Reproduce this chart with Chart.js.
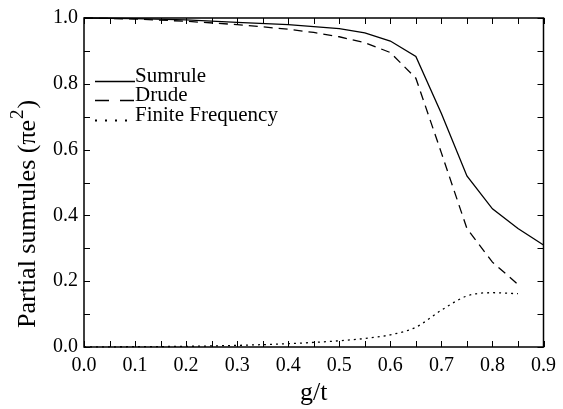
<!DOCTYPE html>
<html>
<head>
<meta charset="utf-8">
<script src="https://cdn.jsdelivr.net/npm/chart.js@4/dist/chart.umd.min.js"></script>
<style>
  html, body { margin: 0; padding: 0; background: #fff; }
  #wrap { width: 563px; height: 409px; }
</style>
</head>
<body>
<div id="wrap"><canvas id="chart"></canvas></div>
<script>
// g/t values along the x axis
const gValues = [0, 0.1, 0.2, 0.3, 0.4, 0.45, 0.5, 0.55, 0.6, 0.65, 0.7, 0.75, 0.8, 0.85, 0.9];
// partial sumrules in units of pi e^2
const sumrule = [1.0, 0.998, 0.994, 0.987, 0.98, 0.974, 0.968, 0.955, 0.93, 0.883, 0.71, 0.52, 0.42, 0.36, 0.31];
const drude = [1.0, 0.997, 0.99, 0.98, 0.966, 0.956, 0.943, 0.925, 0.895, 0.817, 0.59, 0.36, 0.258, 0.19, null];
const finiteFreq = [0.0, 0.001, 0.002, 0.005, 0.01, 0.014, 0.019, 0.026, 0.037, 0.06, 0.112, 0.155, 0.165, 0.162, null];
const seriesNames = ['Sumrule', 'Drude', 'Finite Frequency'];

const xTicks = [0, 0.1, 0.2, 0.3, 0.4, 0.5, 0.6, 0.7, 0.8, 0.9];
const yTicks = [0, 0.2, 0.4, 0.6, 0.8, 1.0];

const FONT = "'Liberation Serif', 'DejaVu Serif', serif";
const dashes = [[], [9, 6], [2, 4]];
const legendDashes = [[], [14, 11], [2, 8]];

const pts = (ys) => gValues.map((g, i) => ({ x: g, y: ys[i] })).filter(p => p.y !== null);

// frame + inward ticks on all four sides
const frameTicks = {
  id: 'frameTicks',
  afterDraw(chart) {
    const { ctx, chartArea: a, scales } = chart;
    const x = scales.x, y = scales.y;
    ctx.save();
    ctx.strokeStyle = '#000';
    ctx.lineWidth = 1.5;
    ctx.strokeRect(a.left, a.top, a.right - a.left, a.bottom - a.top);
    ctx.lineWidth = 1;
    ctx.beginPath();
    for (let i = 0; i <= 18; i++) {
      const px = Math.round(x.getPixelForValue(i * 0.05)) + 0.5;
      ctx.moveTo(px, a.bottom); ctx.lineTo(px, a.bottom - 6);
      ctx.moveTo(px, a.top); ctx.lineTo(px, a.top + 6);
    }
    for (let i = 0; i <= 10; i++) {
      const py = Math.round(y.getPixelForValue(i * 0.1)) + 0.5;
      ctx.moveTo(a.left, py); ctx.lineTo(a.left + 6, py);
      ctx.moveTo(a.right, py); ctx.lineTo(a.right - 6, py);
    }
    ctx.stroke();
    ctx.restore();
  }
};

// legend drawn inside the plot, upper left
const innerLegend = {
  id: 'innerLegend',
  afterDraw(chart) {
    const { ctx } = chart;
    ctx.save();
    ctx.font = '21px ' + FONT;
    ctx.fillStyle = '#000';
    ctx.strokeStyle = '#000';
    ctx.textBaseline = 'alphabetic';
    [82, 101, 121].forEach((yb, i) => {
      ctx.lineWidth = i === 2 ? 2 : 1.4;
      ctx.setLineDash(legendDashes[i]);
      ctx.beginPath();
      ctx.moveTo(95, yb - 0.5);
      ctx.lineTo(135, yb - 0.5);
      ctx.stroke();
      ctx.setLineDash([]);
      ctx.fillText(seriesNames[i], 135, yb);
    });
    ctx.restore();
  }
};

// y axis title with a real superscript
const yTitle = {
  id: 'yTitle',
  afterDraw(chart) {
    const { ctx } = chart;
    ctx.save();
    ctx.translate(35, 328);
    ctx.rotate(-Math.PI / 2);
    ctx.fillStyle = '#000';
    ctx.textBaseline = 'alphabetic';
    ctx.textAlign = 'left';
    ctx.font = '26px ' + FONT;
    const main = 'Partial sumrules (\u03c0e';
    ctx.fillText(main, 0, 0);
    let w = ctx.measureText(main).width + 1;
    ctx.font = '19px ' + FONT;
    ctx.fillText('2', w, -12);
    w += ctx.measureText('2').width + 1;
    ctx.font = '26px ' + FONT;
    ctx.fillText(')', w, 0);
    ctx.restore();
  }
};

const ds = (label, ys, i) => ({
  label,
  data: pts(ys),
  borderColor: '#000',
  borderWidth: 1.3,
  borderDash: dashes[i],
  pointRadius: 0,
  fill: false,
  tension: 0,
  clip: false,
});

new Chart(document.getElementById('chart'), {
  type: 'line',
  data: {
    datasets: [
      ds(seriesNames[0], sumrule, 0),
      ds(seriesNames[1], drude, 1),
      Object.assign(ds(seriesNames[2], finiteFreq, 2), { cubicInterpolationMode: 'monotone' }),
    ],
  },
  options: {
    responsive: true,
    maintainAspectRatio: false,
    animation: false,
    layout: { padding: { top: 14, right: 15, left: 0, bottom: 0 } },
    plugins: {
      legend: { display: false },
      tooltip: { enabled: false },
    },
    scales: {
      x: {
        type: 'linear',
        min: 0,
        max: 0.9,
        afterFit(scale) { scale.height = 62; },
        afterBuildTicks(scale) { scale.ticks = xTicks.map(v => ({ value: v })); },
        grid: { display: false, drawTicks: false },
        border: { display: false },
        ticks: {
          color: '#000',
          font: { family: FONT, size: 20 },
          padding: 7,
          maxRotation: 0,
          callback: v => v.toFixed(1),
        },
        title: {
          display: true,
          text: 'g/t',
          color: '#000',
          font: { family: FONT, size: 26 },
          padding: { top: 0, bottom: 0 },
        },
      },
      y: {
        type: 'linear',
        min: 0,
        max: 1,
        afterFit(scale) { scale.width = 84; },
        afterBuildTicks(scale) { scale.ticks = yTicks.map(v => ({ value: v })); },
        grid: { display: false, drawTicks: false },
        border: { display: false },
        ticks: {
          color: '#000',
          font: { family: FONT, size: 20 },
          padding: 6,
          callback: v => v.toFixed(1),
        },
        title: { display: false },
      },
    },
  },
  plugins: [frameTicks, innerLegend, yTitle],
});
</script>
</body>
</html>
